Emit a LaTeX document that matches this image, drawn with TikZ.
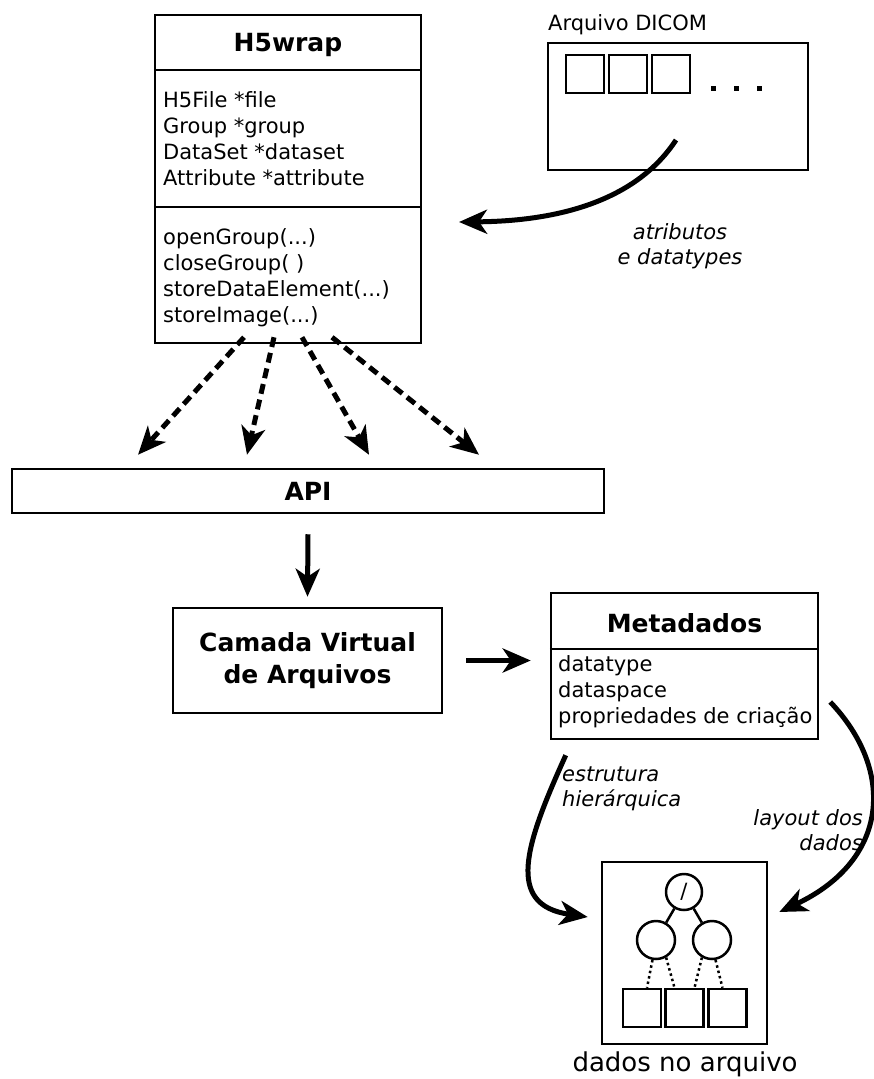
\documentclass[tikz,border=0pt]{standalone}
\usepackage{fontspec}
\setmainfont{DejaVu Sans}[BoldFont={DejaVu Sans Bold}, ItalicFont={DejaVu Sans Oblique}]
\usetikzlibrary{arrows.meta}

\begin{document}
\begin{tikzpicture}[x=1pt, y=-1pt,
    caixa/.style={draw, line width=2.5pt, inner sep=0pt},
    texto/.style={font=\fontsize{21}{26}\selectfont, inner sep=0pt},
    titulo/.style={font=\fontsize{25}{32}\selectfont\bfseries, inner sep=0pt},
    rotulo/.style={font=\fontsize{21}{25}\selectfont\itshape, inner sep=0pt},
    fluxo/.style={line width=5pt, -{Stealth[length=28pt, width=24pt, inset=8pt]}},
    chamada/.style={fluxo, dash pattern=on 10pt off 6pt},
    ponto/.style={line width=2.5pt, dash pattern=on 2.5pt off 3pt}]
    \useasboundingbox (0,0) rectangle (874,1079);

    % Nodes
    \node[caixa, minimum width=266, minimum height=328] (h5wrap) at (288,179) {};
    \node[titulo] (h5titulo) at (288,45) {H5wrap};
    \node[texto, anchor=west, align=left] (h5atrib) at (163,139)
        {H5File *file\\Group *group\\DataSet *dataset\\Attribute *attribute};
    \node[texto, anchor=west, align=left] (h5metodos) at (163,278)
        {openGroup(...)\\closeGroup( )\\storeDataElement(...)\\storeImage(...)};

    \node[texto, anchor=west] (dicomrot) at (548,25) {Arquivo DICOM};
    \node[caixa, minimum width=260, minimum height=127] (dicom) at (678,106.5) {};
    \node[caixa, minimum size=38] (campo1) at (585,74) {};
    \node[caixa, minimum size=38] (campo2) at (628,74) {};
    \node[caixa, minimum size=38] (campo3) at (671,74) {};
    \coordinate (saida) at (676,140);
    \coordinate (chegada) at (459,222);
    \node[rotulo, align=center] (atributos) at (680,246) {atributos\\e datatypes};

    \node[caixa, minimum width=592, minimum height=44, titulo] (api) at (308,491) {API};
    \node[caixa, minimum width=269, minimum height=105, titulo, align=center] (camada) at (307.5,660.5)
        {Camada Virtual\\de Arquivos};

    \node[caixa, minimum width=267, minimum height=146] (meta) at (684.5,666) {};
    \node[titulo] (metatitulo) at (684.5,623) {Metadados};
    \node[texto, anchor=west, align=left] (metacampos) at (558,692)
        {datatype\\dataspace\\propriedades de criação};

    \node[rotulo, anchor=west, align=left] (estrutura) at (562,789) {estrutura\\hierárquica};
    \node[rotulo, anchor=east, align=right] (layoutrot) at (863,830) {layout dos\\dados};

    \node[caixa, minimum width=165, minimum height=182] (dados) at (684.5,953) {};
    \node[caixa, circle, minimum size=36, texto] (raiz) at (684,892) {/};
    \node[caixa, circle, minimum size=38] (filhoesq) at (656,940) {};
    \node[caixa, circle, minimum size=38] (filhodir) at (712,940) {};
    \node[caixa, minimum size=38] (bloco1) at (642,1008) {};
    \node[caixa, minimum size=38] (bloco2) at (684.5,1008) {};
    \node[caixa, minimum size=38] (bloco3) at (727.5,1008) {};
    \node[texto, font=\fontsize{26}{30}\selectfont] (dadosrot) at (685,1064) {dados no arquivo};

    % Lines
    \foreach \k in {0,1,2}
        \fill ({711+23*\k},86) rectangle ++(5,5);
    \draw[fluxo] (saida) .. controls (640,195) and (570,221) .. (chegada);

    \foreach \a/\b in {-44/-170, -14/-61, 14/61, 44/171}
        \draw[chamada] ([xshift=\a pt, yshift=7pt]h5wrap.south) -- ([xshift=\b pt, yshift=13pt]api.north);
    \draw[fluxo] ([yshift=-20pt]api.south) -- ([yshift=10pt]camada.north);
    \draw[fluxo] ([xshift=23pt]camada.east) -- ([xshift=-19pt]camada.east -| meta.west);

    \draw[line width=2.5pt] (meta.west |- 0,649) -- (meta.east |- 0,649);
    \draw[line width=2.5pt] (h5wrap.west |- 0,70) -- (h5wrap.east |- 0,70);
    \draw[line width=2.5pt] (h5wrap.west |- 0,207) -- (h5wrap.east |- 0,207);

    \draw[fluxo] ([xshift=16pt, yshift=-15pt]meta.south west) .. controls (525,845) and (505,905) .. ([xshift=-13pt, yshift=36pt]dados.west);
    \draw[fluxo] ([xshift=11pt, yshift=-36pt]meta.east) .. controls (895,770) and (890,860) .. ([xshift=11pt, yshift=41pt]dados.east);

    \draw[line width=2.5pt] (raiz) -- (filhoesq);
    \draw[line width=2.5pt] (raiz) -- (filhodir);
    \draw[ponto] (filhoesq.-100) -- ([xshift=5pt]bloco1.north);
    \draw[ponto] (filhoesq.-60) -- ([xshift=-10pt]bloco2.north);
    \draw[ponto] (filhodir.-120) -- ([xshift=10pt]bloco2.north);
    \draw[ponto] (filhodir.-80) -- ([xshift=-5pt]bloco3.north);
\end{tikzpicture}
\end{document}
